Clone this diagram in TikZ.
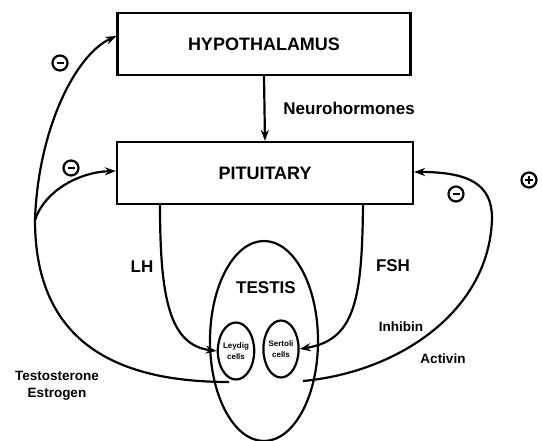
\documentclass[tikz,border=0pt]{standalone}
\usepackage{fontspec}
\setmainfont{Liberation Sans}
\usepackage{tikz}
\usetikzlibrary{arrows.meta, positioning, shapes.geometric}

\begin{document}
\begin{tikzpicture}[
        x=1pt, y=-1pt,
        line width=2.2pt,
        box/.style={
            rectangle,
            draw=black,
            line width=2.2pt,
            align=center,
            font=\bfseries\fontsize{18}{20}\selectfont,
            minimum width=293pt,
            minimum height=62pt
        },
        organ/.style={
            ellipse,
            draw=black,
            line width=2.2pt,
            minimum width=108pt,
            minimum height=200pt
        },
        cell/.style={
            ellipse,
            draw=black,
            line width=2.2pt,
            align=center,
            inner sep=0pt,
            font=\bfseries\fontsize{8}{11}\selectfont,
            minimum width=26pt,
            minimum height=57pt
        },
        lbl/.style={
            align=center,
            font=\bfseries\fontsize{17}{19}\selectfont
        },
        small/.style={
            align=center,
            font=\bfseries\fontsize{13.5}{17}\selectfont
        },
        sign/.style={
            circle,
            draw=black,
            line width=2.2pt,
            inner sep=0pt,
            minimum size=15pt
        },
        minus/.style={
            sign,
            path picture={
                \draw [line width=2.4pt] ([xshift=-3.5pt]path picture bounding box.center) -- ([xshift=3.5pt]path picture bounding box.center);
            }
        },
        plus/.style={
            sign,
            path picture={
                \draw [line width=2pt] ([xshift=-4pt]path picture bounding box.center) -- ([xshift=4pt]path picture bounding box.center);
                \draw [line width=2pt] ([yshift=-4pt]path picture bounding box.center) -- ([yshift=4pt]path picture bounding box.center);
            }
        },
        arrow/.style={
            -{Stealth[length=11pt, width=8pt]},
            line width=2.2pt,
            draw=black
        }
    ]
        \useasboundingbox (0,0) rectangle (542,441);

        \node (hypo) [box] at (264,44) {HYPOTHALAMUS};
        \node (pit) [box, minimum width=296pt] at (265,173) {PITUITARY};
        \node (testis) [organ] at (264,341) {};
        \node (leydig) [cell] at (236,351) {Leydig\\cells};
        \node (sertoli) [cell] at (281,349) {Sertoli\\cells};

        \node (ttl) [lbl] at (266,288) {TESTIS};
        \node (neuro) [lbl, anchor=west] at (279,108) {Neurohormones};
        \node (lh) [lbl] at (142,267) {LH};
        \node (fsh) [lbl] at (393,266) {FSH};
        \node (testo) [small] at (57,386) {Testosterone\\Estrogen};
        \node (inhib) [small] at (401,327) {Inhibin};
        \node (activ) [small] at (443,359) {Activin};

        \node (m1) [minus] at (60,63) {};
        \node (m2) [minus] at (71,168) {};
        \node (m3) [minus] at (456,194) {};
        \node (p1) [plus] at (529,180) {};

        \coordinate (tsout) at (229,382);
        \coordinate (lfork) at (35,220);
        \coordinate (inout) at (303,381);
        \coordinate (rtop) at (492,218);

        \draw [arrow] (hypo.south) -- (pit.north);

        % steroid feedback
        \draw (tsout) .. controls (120,382) and (35,345) .. (lfork);
        \draw [arrow] (lfork) .. controls (38,130) and (75,55) .. ([yshift=8pt]hypo.west);
        \draw [arrow] (lfork) .. controls (45,190) and (80,172) .. ([yshift=2pt]pit.west);

        % inhibin / activin
        \draw (inout) .. controls (400,372) and (490,310) .. (rtop);
        \draw [arrow] (rtop) .. controls (492,185) and (470,172) .. ([yshift=1pt]pit.east);

        % gonadotropins
        \draw [arrow] ([xshift=-105pt]pit.south) .. controls (160,300) and (170,345) .. (leydig.west);
        \draw [arrow] ([xshift=98pt]pit.south) .. controls (362,300) and (355,340) .. (sertoli.east);
    \end{tikzpicture}
\end{document}
